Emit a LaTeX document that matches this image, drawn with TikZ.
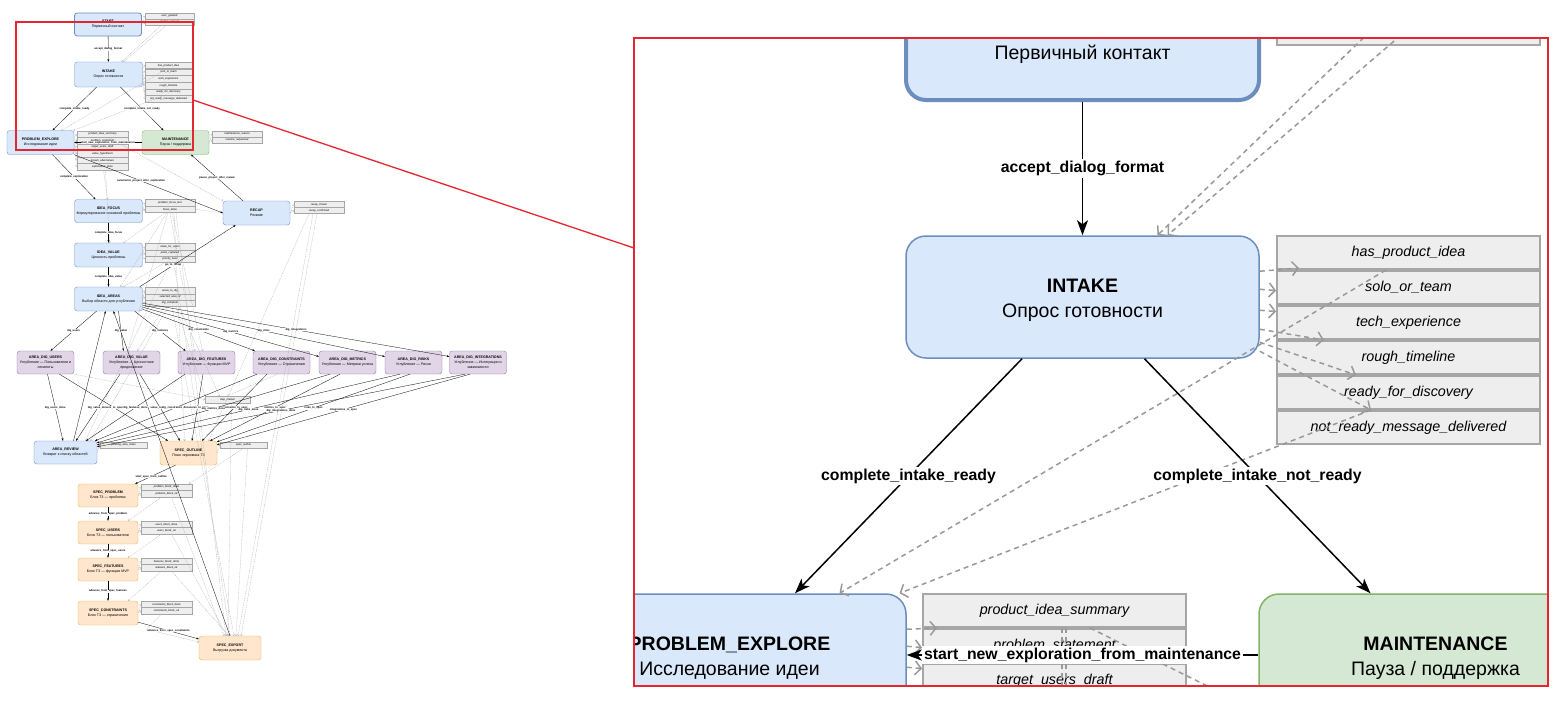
\documentclass[tikz,border=0pt]{standalone}
\usepackage{fontspec}
\setmainfont{Liberation Sans}
\usetikzlibrary{arrows.meta,calc}
\definecolor{bfill}{HTML}{DAE8FC}
\definecolor{bdraw}{HTML}{6C8EBF}
\definecolor{gfill}{HTML}{D5E8D4}
\definecolor{gdraw}{HTML}{82B366}
\definecolor{pfill}{HTML}{E1D5E7}
\definecolor{pdraw}{HTML}{9673A6}
\definecolor{ofill}{HTML}{FFE6CC}
\definecolor{odraw}{HTML}{E8B54F}
\definecolor{lfill}{HTML}{EEEEEE}
\definecolor{ldraw}{HTML}{A6A6A6}
\definecolor{dgray}{HTML}{999999}
\definecolor{callred}{HTML}{E52630}
\newcommand{\ovtxt}[2]{{\bfseries #1}\\#2}
\newcommand{\ovstack}[6]{\foreach \t [count=\i] in {#6} {\node[ovl, minimum width=#4pt, minimum height=#5pt] (#1\i) at (#2,{#3+#5*\i-#5/2}) {\t};}}
\begin{document}
\begin{tikzpicture}[x=1pt,y=-1pt,
 ov/.style={draw, rounded corners=2.8pt, line width=0.35pt, align=center, inner sep=0pt, font=\fontsize{3.6}{4.9}\selectfont},
 ovsz/.style n args={2}{minimum width=#1pt, minimum height=#2pt},
 ovb/.style={ov, fill=bfill, draw=bdraw},
 ovg/.style={ov, fill=gfill, draw=gdraw},
 ovp/.style={ov, fill=pfill, draw=pdraw},
 ovo/.style={ov, fill=ofill, draw=odraw},
 ovl/.style={draw=ldraw, fill=lfill, line width=0.35pt, inner sep=0pt, font=\fontsize{2.7}{3}\selectfont\itshape},
 ova/.style={draw=black, line width=0.3pt, -{Stealth[length=2.6pt,width=1.9pt]}},
 ovt/.style={font=\fontsize{2.7}{3}\selectfont\bfseries, fill=white, inner sep=0.25pt},
 ovd/.style={draw=dgray!80, line width=0.3pt, dash pattern=on 1pt off 0.8pt, -{Straight Barb[length=1.2pt,width=2.6pt,line width=0.3pt]}},
 rv/.style={draw, rounded corners=20pt, line width=1.5pt, minimum width=353pt, minimum height=122pt, inner sep=0pt},
 rvt/.style={font=\fontsize{19.5}{25}\selectfont, align=center, yshift=-3pt, inner sep=0pt},
 rl/.style={draw=ldraw, fill=lfill, line width=2pt, minimum width=263pt, minimum height=33pt, inner sep=0pt, font=\fontsize{14.3}{16}\selectfont\itshape},
 ra/.style={draw=black, line width=1.5pt, -{Stealth[length=15pt,width=11pt,inset=4pt]}},
 rt/.style={font=\fontsize{15.8}{18}\selectfont\bfseries, fill=white, inner sep=2pt},
 rdn/.style={draw=dgray, line width=1.5pt, dash pattern=on 5pt off 4pt},
 rd/.style={rdn, -{Straight Barb[length=6pt,width=14pt,line width=1.5pt]}}
]
\useasboundingbox (0,0) rectangle (1560,705);
\fill[white] (0,0) rectangle (1560,705);

% ================= overview =================
\node[ovb, ovsz={67}{23}, line width=0.8pt] (o_start) at (108,24.5) {\ovtxt{START}{Первичный контакт}};
\node[ovb, ovsz={68}{25}] (o_intake) at (108.5,74.5) {\ovtxt{INTAKE}{Опрос готовности}};
\node[ovb, ovsz={67}{24}] (o_pe) at (40.5,142.5) {\ovtxt{PROBLEM\_EXPLORE}{Исследование идеи}};
\node[ovg, ovsz={67}{24}] (o_maint) at (175.5,142.5) {\ovtxt{MAINTENANCE}{Пауза / поддержка}};
\node[ovb, ovsz={68}{23}] (o_a1) at (108.5,211) {\ovtxt{IDEA\_FOCUS}{Формулирование основной проблемы}};
\node[ovb, ovsz={67}{24}] (o_recap) at (256.5,213) {\ovtxt{RECAP}{Резюме}};
\node[ovb, ovsz={68}{24}] (o_a2) at (108.5,255) {\ovtxt{IDEA\_VALUE}{Ценность проблемы}};
\node[ovb, ovsz={68}{24}] (o_a3) at (108.5,299) {\ovtxt{IDEA\_AREAS}{Выбор области для углубления}};
\node[ovp, ovsz={57}{23}] (o_p1) at (45.5,362.5) {\ovtxt{AREA\_DIG\_USERS}{Углубление — Пользователи и\\сегменты}};
\node[ovp, ovsz={57}{23}] (o_p2) at (131.5,362.5) {\ovtxt{AREA\_DIG\_VALUE}{Углубление — Ценностное\\предложение}};
\node[ovp, ovsz={57}{23}] (o_p3) at (206.5,362.5) {\ovtxt{AREA\_DIG\_FEATURES}{Углубление — Функции MVP}};
\node[ovp, ovsz={57}{23}] (o_p4) at (281.5,362.5) {\ovtxt{AREA\_DIG\_CONSTRAINTS}{Углубление — Ограничения}};
\node[ovp, ovsz={57}{23}] (o_p5) at (347.5,362.5) {\ovtxt{AREA\_DIG\_METRICS}{Углубление — Метрики успеха}};
\node[ovp, ovsz={57}{23}] (o_p6) at (413.5,362.5) {\ovtxt{AREA\_DIG\_RISKS}{Углубление — Риски}};
\node[ovp, ovsz={57}{23}] (o_p7) at (478,362.5) {\ovtxt{AREA\_DIG\_INTEGRATIONS}{Углубление — Интеграции и\\зависимости}};
\node[ovb, ovsz={63}{23}] (o_review) at (65.5,452.5) {\ovtxt{AREA\_REVIEW}{Возврат к списку областей}};
\node[ovo, ovsz={57}{24}] (o_outline) at (188.5,453) {\ovtxt{SPEC\_OUTLINE}{План черновика ТЗ}};
\node[ovo, ovsz={60}{23}] (o_s1) at (108,495.5) {\ovtxt{SPEC\_PROBLEM}{Блок ТЗ — проблема}};
\node[ovo, ovsz={60}{23}] (o_s2) at (108,532.5) {\ovtxt{SPEC\_USERS}{Блок ТЗ — пользователи}};
\node[ovo, ovsz={60}{23}] (o_s3) at (108,569.5) {\ovtxt{SPEC\_FEATURES}{Блок ТЗ — функции MVP}};
\node[ovo, ovsz={60}{24}] (o_s4) at (108,613) {\ovtxt{SPEC\_CONSTRAINTS}{Блок ТЗ — ограничения}};
\node[ovo, ovsz={62}{24}] (o_export) at (230,648) {\ovtxt{SPEC\_EXPORT}{Выгрузка документа}};

\ovstack{ols}{169.5}{13}{49}{6}{user\_greeted, format\_agreed}
\ovstack{oli}{168.5}{62}{47}{6.67}{has\_product\_idea, solo\_or\_team, tech\_experience, rough\_timeline, ready\_for\_discovery, not\_ready\_message\_delivered}
\ovstack{olp}{102.5}{131}{51}{6.5}{product\_idea\_summary, problem\_statement, target\_users\_draft, value\_hypothesis, known\_alternatives, exploration\_done}
\ovstack{olm}{237}{131}{50}{6}{maintenance\_reason, resume\_requested}
\ovstack{ola}{170}{199.5}{50}{6.5}{problem\_focus\_text, focus\_done}
\ovstack{olr}{319}{201.5}{50}{6}{recap\_shown, recap\_confirmed}
\ovstack{olb}{170}{243.5}{50}{6.3}{value\_for\_users, pains\_captured, priority\_level}
\ovstack{olc}{170}{287.5}{50}{6.3}{areas\_to\_dig, selected\_area\_id, dig\_complete}
\ovstack{olv}{123.5}{442}{47}{6}{pending\_area\_notes}
\ovstack{olo}{243.5}{442}{47}{6}{spec\_outline}
\ovstack{olf}{227.5}{396}{45}{7}{step\_marker}
\ovstack{olsa}{166.5}{484}{51}{6.5}{problem\_block\_done, problem\_block\_ok}
\ovstack{olsb}{166.5}{521}{51}{6.5}{users\_block\_done, users\_block\_ok}
\ovstack{olsc}{166.5}{558}{51}{6.5}{features\_block\_done, features\_block\_ok}
\ovstack{olsd}{166.5}{601}{51}{6.5}{constraints\_block\_done, constraints\_block\_ok}

% overview dashed links
\draw[ovd] (o_start.east) -- (ols1.west);
\draw[ovd] (o_start.east) -- (ols2.west);
\foreach \k in {1,...,6} \draw[ovd] ($(o_intake.east)+(0,{\k*2-7})$) -- (oli\k.west);
\foreach \k in {1,...,6} \draw[ovd] ($(o_pe.east)+(0,{\k*2-7})$) -- (olp\k.west);
\foreach \k in {1,2} \draw[ovd] (o_maint.east) -- (olm\k.west);
\foreach \k in {1,2} \draw[ovd] (o_a1.east) -- (ola\k.west);
\foreach \k in {1,2} \draw[ovd] (o_recap.east) -- (olr\k.west);
\foreach \k in {1,2,3} \draw[ovd] (o_a2.east) -- (olb\k.west);
\foreach \k in {1,2,3} \draw[ovd] (o_a3.east) -- (olc\k.west);
\draw[ovd] (o_review.east) -- (olv1.west);
\draw[ovd] (o_outline.east) -- (olo1.west);
\draw[ovd] (o_s1.east) -- (olsa1.west);
\draw[ovd] (o_s1.east) -- (olsa2.west);
\draw[ovd] (o_s2.east) -- (olsb1.west);
\draw[ovd] (o_s2.east) -- (olsb2.west);
\draw[ovd] (o_s3.east) -- (olsc1.west);
\draw[ovd] (o_s3.east) -- (olsc2.west);
\draw[ovd] (o_s4.east) -- (olsd1.west);
\draw[ovd] (o_s4.east) -- (olsd2.west);
\draw[ovd] ($(ols2.south)+(-8,0)$) -- ($(o_intake.north)+(13,0)$);
\draw[ovd] ($(ols2.south)+(-3,0)$) -- ($(o_intake.north)+(15,0)$);
\draw[ovd] ($(oli1.south west)+(22,0)$) -- ($(o_pe.north)+(21,0)$);
\draw[ovd] ($(oli5.south west)+(19,0)$) -- ($(o_pe.north)+(33,0)$);
\draw[ovd] ($(olp6.south)+(1,0)$) -- ($(o_a1.north)+(-1,0)$);
\draw[ovd] ($(olp6.south)+(3,0)$) -- ($(o_a2.north)+(1,0)$);
\draw[ovd] ($(olp1.south west)+(32,0)$) -- (o_recap.north west);
\draw[ovd] (ola2.east) -- (o_recap.west);
\draw[ovd] ($(ola2.south)+(-5,0)$) -- ($(o_a2.north)+(15,0)$);
\draw[ovd] ($(ola2.south)+(-3,0)$) -- ($(o_a3.north)+(12,0)$);
\draw[ovd] ($(ola2.south)+(-2,0)$) -- ($(o_p2.north)+(-4,0)$);
\draw[ovd] ($(ola2.south)+(0,0)$) -- ($(o_p3.north)+(-12,0)$);
\draw[ovd] ($(ola2.south)+(2,0)$) -- ($(o_p3.north)+(-4,0)$);
\draw[ovd] ($(ola2.south)+(4,0)$) -- ($(o_outline.north)+(-4,0)$);
\draw[ovd] ($(ola2.south)+(6,0)$) -- ($(o_export.north)+(-4,0)$);
\draw[ovd] ($(olb3.south)+(-5,0)$) -- ($(o_a3.north)+(15,0)$);
\draw[ovd] ($(olb3.south)+(0,0)$) -- ($(o_review.north)+(20,0)$);
\draw[ovd] ($(olb3.south)+(4,0)$) -- ($(o_export.north)+(0,0)$);
\draw[ovd] ($(olc3.south)+(-6,0)$) -- ($(o_p2.north)+(6,0)$);
\draw[ovd] ($(olc3.south)+(-2,0)$) -- ($(o_review.north)+(25,0)$);
\draw[ovd] ($(olc3.south)+(2,0)$) -- ($(o_export.north)+(4,0)$);
\draw[ovd] ($(olc3.south)+(6,0)$) -- (olf1.north west);
\draw[ovd] ($(olc3.south)+(9,0)$) -- ($(olf1.north)+(-8,0)$);
\draw[ovd] (o_p1.south east) -- (olf1.west);
\draw[ovd] ($(o_p4.south)+(-4,0)$) -- (olf1.north);
\draw[ovd] ($(olr2.south)+(-10,0)$) -- ($(o_outline.north)+(20,0)$);
\draw[ovd] ($(olr2.south)+(-6,0)$) -- ($(o_export.north)+(8,0)$);
\draw[ovd] ($(olr2.south)+(-2,0)$) -- ($(o_export.north)+(11,0)$);
\draw[ovd] ($(olf1.south)+(4,0)$) -- ($(o_export.north)+(-2,0)$);
\draw[ovd] (olo1.south) -- ($(olsa1.north east)+(-3,0)$);
\draw[ovd] ($(olo1.south)+(4,0)$) -- ($(o_export.north)+(6,0)$);
\draw[ovd] ($(olsa2.south)+(-5,0)$) -- ($(o_s2.north)+(20,0)$);
\draw[ovd] ($(olsb2.south)+(-5,0)$) -- ($(o_s3.north)+(20,0)$);
\draw[ovd] ($(olsc2.south)+(-5,0)$) -- ($(o_s4.north)+(20,0)$);
\draw[ovd] ($(olsa2.south)+(5,0)$) -- ($(o_export.north)+(-6,0)$);
\draw[ovd] ($(olsb2.south)+(5,0)$) -- ($(o_export.north)+(-3,0)$);
\draw[ovd] ($(olsc2.south)+(5,0)$) -- ($(o_export.north)+(-1,0)$);
\draw[ovd] ($(olsd2.south)+(-5,0)$) -- ($(o_s4.south east)+(8,4)$) -- ($(o_export.west)+(0,-6)$);

% overview solid transitions
\draw[ova] (o_start) -- node[ovt]{accept\_dialog\_format} (o_intake);
\draw[ova] ($(o_intake.south)+(-12,0)$) -- node[ovt]{complete\_intake\_ready} ($(o_pe.north)+(12,0)$);
\draw[ova] ($(o_intake.south)+(12,0)$) -- node[ovt]{complete\_intake\_not\_ready} ($(o_maint.north)+(-12,0)$);
\draw[ova] (o_maint) -- node[ovt]{start\_new\_exploration\_from\_maintenance} (o_pe);
\draw[ova] ($(o_pe.south)+(12,0)$) -- node[ovt]{complete\_exploration} ($(o_a1.north)+(-13,0)$);
\draw[ova] (o_pe.south east) -- node[ovt, pos=0.45]{summarize\_project\_after\_exploration} (o_recap.west);
\draw[ova] ($(o_recap.north)+(-13.5,0)$) -- node[ovt]{pause\_project\_after\_review} ($(o_maint.south)+(15.5,0)$);
\draw[ova] (o_a1) -- node[ovt]{complete\_idea\_focus} (o_a2);
\draw[ova] (o_a2) -- node[ovt]{complete\_idea\_value} (o_a3);
\draw[ova] ($(o_a3.north east)+(-3,0)$) -- node[ovt, pos=0.35]{go\_to\_recap} ($(o_recap.south)+(-21,0)$);
\draw[ova] ($(o_a3.south)+(-12,0)$) -- node[ovt]{dig\_users} ($(o_p1.north)+(5,0)$);
\draw[ova] ($(o_a3.south)+(10,0)$) -- node[ovt]{dig\_value} ($(o_p2.north)+(-8,0)$);
\draw[ova] ($(o_a3.south east)+(-8,0)$) -- node[ovt]{dig\_features} ($(o_p3.north)+(-21,0)$);
\draw[ova] ($(o_a3.south east)+(0,-2)$) -- node[ovt]{dig\_constraints} ($(o_p4.north west)+(2,0)$);
\draw[ova] ($(o_a3.south east)+(0,-4)$) -- node[ovt]{dig\_metrics} ($(o_p5.west)+(0,-6)$);
\draw[ova] ($(o_a3.south east)+(0,-6)$) -- node[ovt]{dig\_risks} ($(o_p6.west)+(0,-6)$);
\draw[ova] ($(o_a3.south east)+(0,-8)$) -- node[ovt]{dig\_integrations} ($(o_p7.west)+(0,-6)$);
\draw[ova] ($(o_review.north)+(8,0)$) -- ($(o_a3.south)+(-3,0)$);
\draw[ova] (o_export.north) -- ($(o_a3.south)+(5,0)$);
\draw[ova] ($(o_p1.south)+(2,0)$) -- node[ovt]{dig\_users\_done} ($(o_review.north)+(-2.5,0)$);
\draw[ova] ($(o_p1.south)+(14,0)$) -- node[ovt]{users\_to\_spec} ($(o_outline.north)+(-20.5,0)$);
\draw[ova] ($(o_p2.south)+(-11.5,0)$) -- node[ovt]{dig\_value\_done} ($(o_review.north)+(10.5,0)$);
\draw[ova] ($(o_p2.south)+(8.5,0)$) -- node[ovt]{value\_to\_spec} ($(o_outline.north)+(-8.5,0)$);
\draw[ova] ($(o_p3.south)+(-21.5,0)$) -- node[ovt]{dig\_features\_done} ($(o_review.north)+(20.5,0)$);
\draw[ova] ($(o_p3.south)+(-3.5,0)$) -- node[ovt]{features\_to\_spec} ($(o_outline.north)+(3.5,0)$);
\draw[ova] ($(o_p4.south)+(-24.5,0)$) -- node[ovt]{dig\_constraints\_done} ($(o_review.north)+(29.5,0)$);
\draw[ova] ($(o_p4.south)+(-14.5,0)$) -- node[ovt]{constraints\_to\_spec} ($(o_outline.north)+(13.5,0)$);
\draw[ova] ($(o_p5.south)+(-17.5,0)$) -- node[ovt]{dig\_metrics\_done} ($(o_review.north)+(31.5,2)$);
\draw[ova] ($(o_p5.south)+(-7.5,0)$) -- node[ovt]{metrics\_to\_spec} ($(o_outline.north)+(21.5,0)$);
\draw[ova] ($(o_p6.south)+(-13.5,0)$) -- node[ovt]{dig\_risks\_done} ($(o_review.north)+(31.5,4)$);
\draw[ova] ($(o_p6.south)+(-3.5,0)$) -- node[ovt]{risks\_to\_spec} ($(o_outline.north)+(28.5,1)$);
\draw[ova] ($(o_p7.south)+(-13,0)$) -- node[ovt]{dig\_integrations\_done} ($(o_review.north)+(31.5,6)$);
\draw[ova] ($(o_p7.south)+(-8,0)$) -- node[ovt]{integrations\_to\_spec} ($(o_outline.north)+(28.5,4)$);
\draw[ova] ($(o_outline.south)+(-13,0)$) -- node[ovt, pos=0.6]{start\_spec\_from\_outline} ($(o_s1.north east)+(-3,0)$);
\draw[ova] (o_s1) -- node[ovt]{advance\_from\_spec\_problem} (o_s2);
\draw[ova] (o_s2) -- node[ovt]{advance\_from\_spec\_users} (o_s3);
\draw[ova] (o_s3) -- node[ovt]{advance\_from\_spec\_features} (o_s4);
\draw[ova] ($(o_s4.south east)+(0,-3)$) -- node[ovt]{advance\_from\_spec\_constraints} ($(o_export.west)+(0,-9)$);

% zoom marker
\draw[callred, line width=1.3pt] (16,22) rectangle (193,150);
\draw[callred, line width=1.3pt] (193,100) -- (634,248);

% ================= magnified view =================
\begin{scope}
\clip (634,38) rectangle (1548,686);
\node[rv, fill=bfill, draw=bdraw, line width=4pt, label={[rvt]center:\textbf{START}\\Первичный контакт}] (r_start) at (1082.5,39) {};
\node[rl] (r_sl2) at (1408.5,28.5) {};
\node[rv, fill=bfill, draw=bdraw, label={[rvt]center:\textbf{INTAKE}\\Опрос готовности}] (r_intake) at (1082.5,297) {};
\foreach \t [count=\i] in {has\_product\_idea, solo\_or\_team, tech\_experience, rough\_timeline, ready\_for\_discovery, not\_ready\_message\_delivered}
  {\node[rl] (r_il\i) at (1408.5,{252.5+35*(\i-1)}) {\t};}
\node[rv, fill=bfill, draw=bdraw, label={[rvt]center:\textbf{PROBLEM\_EXPLORE}\\Исследование идеи}] (r_pe) at (729.5,655) {};
\node[rv, fill=gfill, draw=gdraw, label={[rvt]center:\textbf{MAINTENANCE}\\Пауза / поддержка}] (r_maint) at (1435.5,655) {};
\foreach \t [count=\i] in {product\_idea\_summary, problem\_statement, target\_users\_draft}
  {\node[rl] (r_pl\i) at (1054.5,{610.5+35*(\i-1)}) {\t};}

\coordinate (r_top1) at (1403,0);
\coordinate (r_top2) at (1442,0);
\coordinate (r_bot1) at (1062,720);
\coordinate (r_bot2) at (1066,720);
\coordinate (r_bot3) at (1260,712);
\draw[rd] (r_top1) -- ($(r_intake.north)+(75,0)$);
\draw[rd] (r_top2) -- ($(r_intake.north)+(85,0)$);
\draw[rd] ($(r_intake.north east)+(0,36)$) -- ($(r_il1.south west)+(23,-2)$);
\draw[rd] ($(r_intake.north east)+(0,54)$) -- ($(r_il2.west)+(0,3)$);
\draw[rd] ($(r_intake.north east)+(0,75)$) -- ($(r_il3.west)+(0,-11)$);
\draw[rd] ($(r_intake.north east)+(0,94)$) -- ($(r_il3.south west)+(48,0)$);
\draw[rd] ($(r_intake.north east)+(0,107)$) -- ($(r_il4.south west)+(80,0)$);
\draw[rd] ($(r_intake.north east)+(0,116)$) -- ($(r_il5.south west)+(95,0)$);
\draw[rd] ($(r_il1.south west)+(110,0)$) -- ($(r_pe.north)+(110,0)$);
\draw[rd] ($(r_il5.south west)+(95,0)$) -- ($(r_pe.north)+(170,0)$);
\draw[rd] ($(r_pe.north east)+(0,36)$) -- ($(r_pl1.south west)+(15,0)$);
\draw[rd] ($(r_pe.north east)+(0,53)$) -- ($(r_pl2.west)+(0,2)$);
\draw[rd] ($(r_pe.north east)+(0,74)$) -- ($(r_pl3.west)+(0,-12)$);
\draw[rdn] ($(r_pl1.south)+(7.5,0)$) -- (r_bot1);
\draw[rdn] ($(r_pl1.south)+(11.5,0)$) -- (r_bot2);
\draw[rdn] ($(r_pl1.south west)+(168,0)$) -- (r_bot3);

\draw[ra] (r_start) -- node[rt]{accept\_dialog\_format} (r_intake);
\draw[ra] ($(r_intake.south)+(-60.5,0)$) -- node[rt]{complete\_intake\_ready} ($(r_pe.north)+(65.5,0)$);
\draw[ra] ($(r_intake.south)+(62,0)$) -- node[rt]{complete\_intake\_not\_ready} ($(r_maint.north)+(-65,0)$);
\draw[ra] (r_maint) -- node[rt]{start\_new\_exploration\_from\_maintenance} (r_pe);
\end{scope}
\draw[callred, line width=2pt] (634,38) rectangle (1548,686);
\end{tikzpicture}
\end{document}
